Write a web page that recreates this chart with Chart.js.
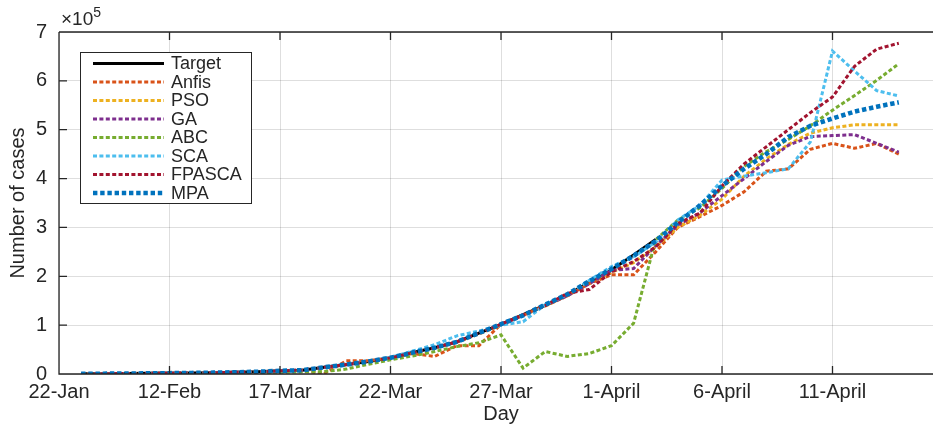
<!DOCTYPE html>
<html>
<head>
<meta charset="utf-8">
<script src="https://cdn.jsdelivr.net/npm/chart.js@4.4.1/dist/chart.umd.min.js"></script>
<style>
  html, body { margin: 0; padding: 0; background: #ffffff; overflow: hidden; }
  #wrap { width: 950px; height: 428px; }
</style>
</head>
<body>
<div id="wrap"><canvas id="casesChart" width="950" height="428"></canvas></div>
<script>
// x positions are day indices 1..38; ticks every 5 days
const tickLabels = ["22-Jan", "12-Feb", "17-Mar", "22-Mar", "27-Mar", "1-April", "6-April", "11-April"];

const target = [537, 605, 959, 1281, 1663, 2179, 2727, 3499, 4632, 6421, 7783, 13747, 19273, 25600, 33276, 43847, 53740, 65778, 83836, 101657, 121478, 140886, 161807, 188172, 213372, 243453, 275586];
const anfis = [500, 700, 900, 1200, 1600, 2000, 2600, 3300, 4300, 5800, 6500, 1000, 27000, 27000, 33000, 42000, 36000, 58000, 58000, 102000, 120000, 140000, 160000, 185000, 203000, 203000, 250000, 300000, 322000, 345000, 373000, 415000, 420000, 460000, 472000, 462000, 472000, 450000];
const pso = [540, 610, 960, 1280, 1660, 2180, 2720, 3500, 4600, 6400, 7800, 13500, 19000, 25500, 33000, 43500, 53000, 65000, 82000, 100000, 120000, 139000, 160000, 186000, 208000, 228000, 260000, 300000, 325000, 358000, 405000, 440000, 470000, 493000, 504000, 510000, 510000, 510000];
const ga = [537, 605, 959, 1281, 1663, 2179, 2727, 3499, 4632, 6421, 7783, 13500, 19000, 25500, 33000, 43500, 53500, 65500, 83000, 101000, 120000, 140000, 160000, 185000, 212000, 216000, 262000, 305000, 330000, 365000, 400000, 435000, 468000, 486000, 488000, 490000, 472000, 454000];
const abc = [300, 400, 600, 800, 1000, 1200, 1500, 2000, 2500, 3500, 4500, 5000, 10000, 20000, 29000, 37000, 46000, 56000, 64000, 80000, 12000, 46000, 36000, 42000, 58000, 104000, 275000, 315000, 340000, 380000, 425000, 455000, 480000, 508000, 540000, 570000, 601000, 635000];
const sca = [537, 605, 959, 1281, 1663, 2179, 2727, 3499, 4632, 6421, 7783, 14000, 20000, 27000, 34000, 47000, 60000, 78000, 88000, 100000, 107000, 142000, 162000, 192000, 220000, 240000, 270000, 315000, 345000, 397000, 405000, 412000, 420000, 475000, 661000, 620000, 580000, 569000];
const fpasca = [537, 605, 959, 1281, 1663, 2179, 2727, 3499, 4632, 6421, 7783, 13700, 19300, 25600, 33000, 43800, 53700, 65800, 83800, 101700, 121000, 140000, 165000, 173000, 209000, 230000, 260000, 308000, 329000, 385000, 430000, 465000, 500000, 535000, 567000, 630000, 665000, 677000];
const mpa = [537, 605, 959, 1281, 1663, 2179, 2727, 3499, 4632, 6421, 7783, 13700, 19300, 25600, 33300, 43800, 53700, 65800, 83800, 102000, 120000, 142000, 163000, 190000, 215000, 242000, 272000, 310000, 345000, 385000, 420000, 450000, 485000, 508000, 523000, 537000, 547000, 556000];

const textColor = "#262626";
const fontFamily = "'Liberation Sans', Arial, Helvetica, sans-serif";

function toPoints(values) {
  return values.map((v, i) => ({ x: i + 1, y: v }));
}

function series(label, values, color, order) {
  return {
    label: label,
    data: toPoints(values),
    borderColor: color,
    backgroundColor: "transparent",
    borderWidth: 3,
    borderDash: [4, 2.4],
    pointRadius: 0,
    tension: 0,
    order: order
  };
}

const datasets = [
  {
    label: "Target",
    data: toPoints(target),
    borderColor: "#000000",
    backgroundColor: "transparent",
    borderWidth: 3,
    pointRadius: 0,
    tension: 0,
    order: 8
  },
  series("Anfis", anfis, "#D95319", 7),
  series("PSO", pso, "#EDB120", 6),
  series("GA", ga, "#7E2F8E", 5),
  series("ABC", abc, "#77AC30", 4),
  series("SCA", sca, "#4DBEEE", 3),
  series("FPASCA", fpasca, "#A2142F", 2),
  Object.assign(series("MPA", mpa, "#0072BD", 1), { borderWidth: 4.6, borderDash: [4.4, 2.8] })
];

// box, inward ticks, exponent label and the boxed legend
const matlabFrame = {
  id: "matlabFrame",
  afterDatasetsDraw(chart) {
    const ctx = chart.ctx;
    const a = chart.chartArea;
    const xs = chart.scales.x;
    const ys = chart.scales.y;
    ctx.save();
    ctx.strokeStyle = textColor;
    ctx.lineWidth = 1.3;
    ctx.setLineDash([]);
    ctx.beginPath();
    ctx.moveTo(a.left, a.top);
    ctx.lineTo(a.right, a.top);
    ctx.moveTo(a.left, a.top);
    ctx.lineTo(a.left, a.bottom);
    ctx.lineTo(a.right, a.bottom);
    xs.ticks.forEach(t => {
      const px = xs.getPixelForValue(t.value);
      ctx.moveTo(px, a.bottom);
      ctx.lineTo(px, a.bottom - 8);
      ctx.moveTo(px, a.top);
      ctx.lineTo(px, a.top + 8);
    });
    ys.ticks.forEach(t => {
      const py = ys.getPixelForValue(t.value);
      ctx.moveTo(a.left, py);
      ctx.lineTo(a.left + 8, py);
      ctx.moveTo(a.right, py);
      ctx.lineTo(a.right - 8, py);
    });
    ctx.stroke();

    // x10^5
    ctx.fillStyle = textColor;
    ctx.textBaseline = "alphabetic";
    ctx.textAlign = "left";
    ctx.font = "19px " + fontFamily;
    ctx.fillText("\u00d710", 61, 25);
    const w = ctx.measureText("\u00d710").width;
    ctx.font = "14px " + fontFamily;
    ctx.fillText("5", 61 + w, 17);

    // legend
    const lx = 80.5, ly = 52.5, lw = 171, lh = 151;
    ctx.fillStyle = "#ffffff";
    ctx.fillRect(lx, ly, lw, lh);
    ctx.strokeStyle = textColor;
    ctx.lineWidth = 1;
    ctx.strokeRect(lx, ly, lw, lh);
    ctx.font = "18px " + fontFamily;
    ctx.textBaseline = "middle";
    chart.data.datasets.forEach((ds, i) => {
      const rowY = 63.5 + i * 18.5;
      ctx.strokeStyle = ds.borderColor;
      ctx.lineWidth = ds.borderWidth;
      ctx.setLineDash(ds.borderDash || []);
      ctx.beginPath();
      ctx.moveTo(93, rowY);
      ctx.lineTo(164, rowY);
      ctx.stroke();
      ctx.fillStyle = textColor;
      ctx.fillText(ds.label, 171, rowY + 1);
    });
    ctx.restore();
  }
};

new Chart(document.getElementById("casesChart"), {
  type: "line",
  data: { datasets: datasets },
  plugins: [matlabFrame],
  options: {
    responsive: false,
    animation: false,
    devicePixelRatio: 1,
    layout: { padding: { top: 32, right: 7, left: 0, bottom: 0 } },
    plugins: {
      legend: { display: false },
      tooltip: { enabled: false }
    },
    scales: {
      x: {
        type: "linear",
        min: 0,
        max: 40,
        afterFit: s => { s.height = 54; },
        ticks: {
          stepSize: 5,
          autoSkip: false,
          maxRotation: 0,
          padding: 6,
          color: textColor,
          font: { family: fontFamily, size: 20 },
          callback: v => tickLabels[v / 5] || ""
        },
        grid: { color: "rgba(0,0,0,0.13)", drawTicks: false },
        border: { display: false },
        title: {
          display: true,
          text: "Day",
          color: textColor,
          font: { family: fontFamily, size: 20 },
          padding: { top: 0, bottom: 2 }
        }
      },
      y: {
        min: 0,
        max: 700000,
        afterFit: s => { s.width = 59; },
        ticks: {
          stepSize: 100000,
          padding: 12,
          color: textColor,
          font: { family: fontFamily, size: 20 },
          callback: v => v / 100000
        },
        grid: { color: "rgba(0,0,0,0.13)", drawTicks: false },
        border: { display: false },
        title: {
          display: true,
          text: "Number of cases",
          color: textColor,
          font: { family: fontFamily, size: 20 },
          padding: { top: 6, bottom: 0 }
        }
      }
    }
  }
});
</script>
</body>
</html>
